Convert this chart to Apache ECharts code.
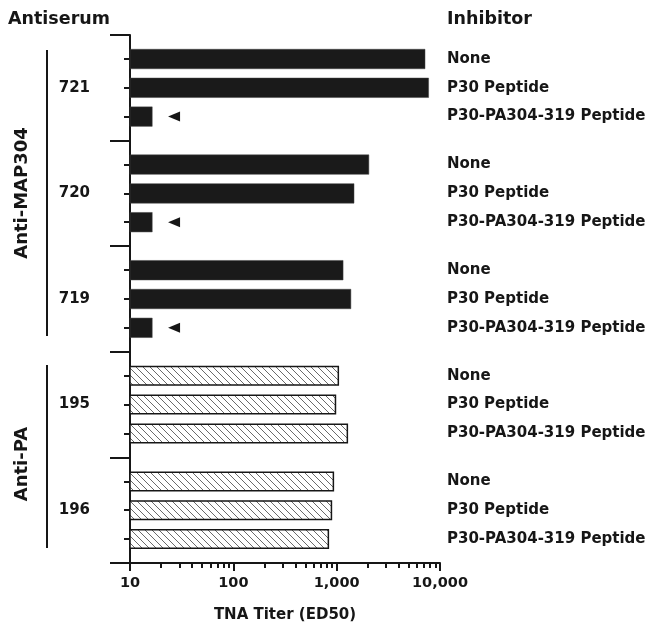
<!DOCTYPE html>
<html>
<head>
<meta charset="utf-8">
<script src="https://cdn.jsdelivr.net/npm/echarts@6/dist/echarts.min.js"></script>
<style>
  html, body { margin: 0; padding: 0; background: #fff; }
  #chart { width: 652px; height: 630px; }
</style>
</head>
<body>
<div id="chart"></div>
<script>
// --- données --- //
const groups = ['721', '720', '719', '195', '196'];
const inhibitors = ['None', 'P30 Peptide', 'P30-PA304-319 Peptide'];
const titer721 = [7200, 7800, 16.5];
const titer720 = [2060, 1480, 16.5];
const titer719 = [1160, 1380, 16.5];
const titer195 = [1055, 990, 1290];
const titer196 = [945, 905, 845];
const hatchedGroups = ['195', '196'];
const arrowGroups = ['721', '720', '719'];
const arrowTiter = 26.7;
const xTicksMinor = [20, 30, 40, 50, 60, 70, 80, 90, 200, 300, 400, 500, 600, 700, 800, 900,
  2000, 3000, 4000, 5000, 6000, 7000, 8000, 9000];

const titers = [titer721, titer720, titer719, titer195, titer196];

// 11 slots per group: bars on slots 2, 5, 8
const SLOTS = 11;
const barSlots = [2, 5, 8];
const FONT = 'DejaVu Sans';
const INK = '#161616';

// hachures pour les barres anti-PA
const hatch = document.createElement('canvas');
hatch.width = 7; hatch.height = 7;
const hctx = hatch.getContext('2d');
hctx.fillStyle = '#fff';
hctx.fillRect(0, 0, 7, 7);
hctx.strokeStyle = '#6a6a6a';
hctx.lineWidth = 1;
hctx.beginPath();
hctx.moveTo(0, 0); hctx.lineTo(7, 7);
hctx.moveTo(-1, 6); hctx.lineTo(1, 8);
hctx.moveTo(6, -1); hctx.lineTo(8, 1);
hctx.stroke();

const cats = [];
const barData = [];
groups.forEach((g, gi) => {
  for (let s = 0; s < SLOTS; s++) {
    cats.push(g + '_' + s);
    const k = barSlots.indexOf(s);
    if (k < 0) { barData.push('-'); continue; }
    const hatched = hatchedGroups.includes(g);
    barData.push({
      value: titers[gi][k],
      itemStyle: hatched
        ? { color: { image: hatch, repeat: 'repeat' }, borderColor: INK, borderWidth: 1.5 }
        : { color: '#1a1a1a', borderColor: '#444', borderWidth: 0.5 }
    });
  }
});

const arrowData = arrowGroups.map(g => [arrowTiter, g + '_' + barSlots[2]]);

const option = {
  animation: false,
  backgroundColor: '#fff',
  grid: { left: 130, right: 212, top: 35, bottom: 67, containLabel: false, outerBoundsMode: 'none' },
  xAxis: [
    {
      type: 'log', logBase: 10, min: 10, max: 10000,
      position: 'bottom',
      axisLine: { show: true, lineStyle: { color: INK, width: 2 } },
      axisTick: { show: true, length: 8, lineStyle: { color: INK, width: 2 } },
      splitLine: { show: false },
      axisLabel: {
        color: INK, fontFamily: FONT, fontWeight: 'bold', fontSize: 14.5, margin: 13,
        formatter: v => Number(v).toLocaleString('en-US')
      },
      name: 'TNA Titer (ED50)',
      nameLocation: 'middle',
      nameGap: 45,
      nameTextStyle: { color: INK, fontFamily: FONT, fontWeight: 'bold', fontSize: 15 }
    },
    {
      type: 'log', logBase: 10, min: 10, max: 10000,
      position: 'bottom',
      axisLine: { show: false },
      axisTick: { show: true, length: 5, customValues: xTicksMinor, lineStyle: { color: INK, width: 2 } },
      axisLabel: { show: false },
      splitLine: { show: false }
    }
  ],
  yAxis: [
    {
      type: 'category', data: cats, inverse: true, position: 'left',
      axisLine: { show: true, lineStyle: { color: INK, width: 2 } },
      axisTick: {
        show: true, alignWithLabel: true, length: 6,
        interval: i => barSlots.includes(i % SLOTS),
        lineStyle: { color: INK, width: 2 }
      },
      axisLabel: {
        interval: i => i % SLOTS === 5,
        formatter: (v, i) => groups[Math.floor(i / SLOTS)],
        color: INK, fontFamily: FONT, fontWeight: 'bold', fontSize: 15, margin: 40
      }
    },
    {
      type: 'category', data: cats, inverse: true, position: 'left',
      axisLine: { show: false },
      axisTick: {
        show: true, alignWithLabel: false, length: 20,
        interval: i => i % SLOTS === 0,
        lineStyle: { color: INK, width: 2 }
      },
      axisLabel: { show: false }
    },
    {
      type: 'category', data: cats, inverse: true, position: 'right',
      axisLine: { show: false },
      axisTick: { show: false },
      axisLabel: {
        interval: i => barSlots.includes(i % SLOTS),
        formatter: (v, i) => inhibitors[barSlots.indexOf(i % SLOTS)],
        align: 'left',
        color: INK, fontFamily: FONT, fontWeight: 'bold', fontSize: 15, margin: 7
      }
    }
  ],
  series: [
    {
      type: 'bar', xAxisIndex: 0, yAxisIndex: 0,
      barWidth: 20, clip: true,
      data: barData
    },
    {
      type: 'scatter', xAxisIndex: 0, yAxisIndex: 0,
      symbol: 'triangle', symbolRotate: 90, symbolSize: [10, 12],
      itemStyle: { color: INK, opacity: 1 },
      data: arrowData
    }
  ],
  graphic: [
    { type: 'text', x: 8, y: 19, style: { text: 'Antiserum', fill: INK, fontFamily: FONT, fontWeight: 'bold', fontSize: 17.5, align: 'left', verticalAlign: 'middle' } },
    { type: 'text', x: 447, y: 19, style: { text: 'Inhibitor', fill: INK, fontFamily: FONT, fontWeight: 'bold', fontSize: 17.5, align: 'left', verticalAlign: 'middle' } },
    { type: 'line', shape: { x1: 47, y1: 50, x2: 47, y2: 336 }, style: { stroke: INK, lineWidth: 2 } },
    { type: 'line', shape: { x1: 47, y1: 365, x2: 47, y2: 548 }, style: { stroke: INK, lineWidth: 2 } },
    { type: 'text', x: 22, y: 193, rotation: Math.PI / 2, style: { text: 'Anti-MAP304', fill: INK, fontFamily: FONT, fontWeight: 'bold', fontSize: 18, align: 'center', verticalAlign: 'middle' } },
    { type: 'text', x: 22, y: 464, rotation: Math.PI / 2, style: { text: 'Anti-PA', fill: INK, fontFamily: FONT, fontWeight: 'bold', fontSize: 18, align: 'center', verticalAlign: 'middle' } }
  ]
};

const chart = echarts.init(document.getElementById('chart'));
chart.setOption(option);
</script>
</body>
</html>
